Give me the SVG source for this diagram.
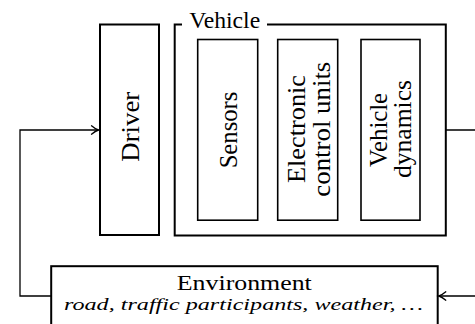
<svg xmlns="http://www.w3.org/2000/svg" width="475" height="324" viewBox="0 0 475 324">
<style>
.box{fill:none;stroke:#000;stroke-width:2}
.inner{fill:none;stroke:#000;stroke-width:1.6}
.con{fill:none;stroke:#000;stroke-width:1.3}
.t{fill:#000;text-anchor:middle}
.v{font-size:25px}
.it{font-style:italic;font-size:17px}
</style>
<defs>
<marker id="arr" markerWidth="12" markerHeight="12" refX="9" refY="6" orient="auto" markerUnits="userSpaceOnUse">
<path d="M2,1.8 Q6,5.2 9,6 Q6,6.8 2,10.2" fill="none" stroke="#000" stroke-width="1.3" stroke-linecap="round"/>
</marker>
</defs>
<rect width="475" height="324" fill="#fff"/>
<g font-family="'Liberation Serif', 'Times New Roman', serif">
<g id="driver">
<rect class="box" x="100" y="24.5" width="59" height="210.5"/>
<text class="t v" transform="translate(139,126.7) rotate(-90)" textLength="70" lengthAdjust="spacingAndGlyphs">Driver</text>
</g>
<g id="vehicle">
<path class="box" d="M182,24.5 H174.7 V235.5 H445.8 V24.5 H267"/>
<text class="t" x="224.7" y="27.7" font-size="23" textLength="71" lengthAdjust="spacingAndGlyphs">Vehicle</text>
</g>
<g id="sensors">
<rect class="inner" x="197.7" y="39.5" width="60" height="180.7"/>
<text class="t v" transform="translate(236.5,130) rotate(-90)" textLength="76.7" lengthAdjust="spacingAndGlyphs">Sensors</text>
</g>
<g id="ecu">
<rect class="inner" x="277.7" y="39.5" width="60" height="180.7"/>
<text class="t v" transform="translate(305,129) rotate(-90)" textLength="108" lengthAdjust="spacingAndGlyphs">Electronic</text>
<text class="t v" transform="translate(330,129.2) rotate(-90)" textLength="135" lengthAdjust="spacingAndGlyphs">control units</text>
</g>
<g id="dynamics">
<rect class="inner" x="361" y="39.5" width="59" height="180.7"/>
<text class="t v" transform="translate(386.5,130) rotate(-90)" textLength="74" lengthAdjust="spacingAndGlyphs">Vehicle</text>
<text class="t v" transform="translate(411,129) rotate(-90)" textLength="98" lengthAdjust="spacingAndGlyphs">dynamics</text>
</g>
<g id="environment">
<rect class="box" x="51.2" y="266.2" width="386.5" height="70"/>
<text class="t" x="244.3" y="290" font-size="22" textLength="135" lengthAdjust="spacingAndGlyphs">Environment</text>
<text class="t it" x="243.5" y="309.5" textLength="359" lengthAdjust="spacingAndGlyphs">road, traffic participants, weather, …</text>
</g>
</g>
<g id="connectors">
<path class="con" d="M51.2,296 H20 V130 H98.5" marker-end="url(#arr)"/>
<path class="con" d="M445.8,130 H490 V296 H438.8" marker-end="url(#arr)"/>
</g>
</svg>
